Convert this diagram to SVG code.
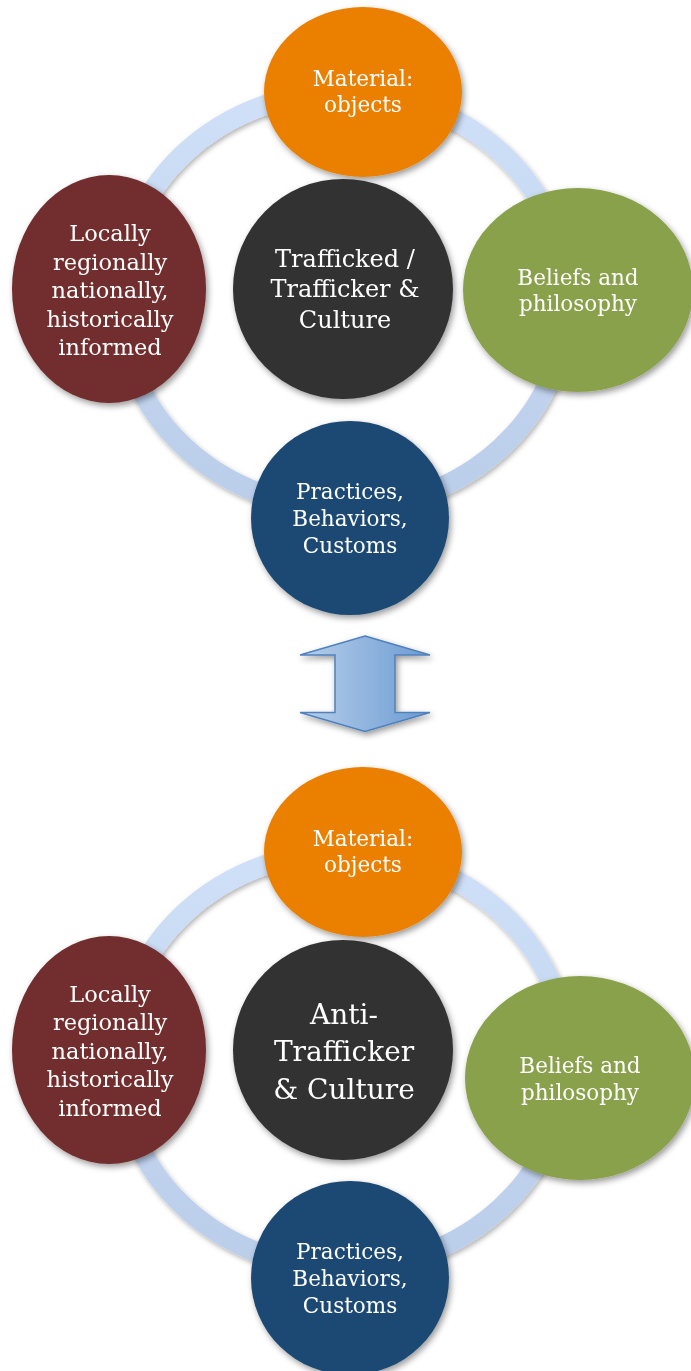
<svg xmlns="http://www.w3.org/2000/svg" width="691" height="1371" viewBox="0 0 691 1371">
<defs>
<filter id="sh" x="-20%" y="-20%" width="140%" height="140%">
<feDropShadow dx="2" dy="3" stdDeviation="3" flood-color="#000" flood-opacity="0.4"/>
</filter>
<filter id="rsh" x="-10%" y="-10%" width="120%" height="120%">
<feDropShadow dx="1.5" dy="2.5" stdDeviation="2.5" flood-color="#000" flood-opacity="0.3"/>
</filter>
<linearGradient id="ringg" x1="0" y1="0" x2="0" y2="1">
<stop offset="0" stop-color="#cfe0f8"/>
<stop offset="1" stop-color="#bacde9"/>
</linearGradient>
<linearGradient id="arrg" x1="0" y1="0" x2="1" y2="0">
<stop offset="0" stop-color="#b7cfea"/>
<stop offset="1" stop-color="#6b9bd3"/>
</linearGradient>
<style>
.t{font-family:"DejaVu Serif","Liberation Serif",serif;fill:#ffffff;text-anchor:middle;font-size:21.5px}
.m{font-size:22.5px}
.c{font-size:24px}
.c2{font-size:28px}
.ring{fill:none;stroke:url(#ringg);stroke-width:20}
</style>
</defs>

<g id="connectors" filter="url(#rsh)">
<ellipse class="ring" cx="343" cy="300" rx="224" ry="208"/>
<ellipse class="ring" cx="343" cy="1060" rx="224" ry="208"/>
</g>

<g id="top-material" filter="url(#sh)">
<ellipse cx="363" cy="92" rx="99" ry="85" fill="#eb8006"/>
<text class="t" x="363" y="86">Material:</text>
<text class="t" x="363" y="112">objects</text>
</g>
<g id="top-beliefs" filter="url(#sh)">
<ellipse cx="578" cy="290" rx="115" ry="102" fill="#8aa14b"/>
<text class="t" x="578" y="285">Beliefs and</text>
<text class="t" x="578" y="311">philosophy</text>
</g>
<g id="top-practices" filter="url(#sh)">
<ellipse cx="350" cy="518" rx="99" ry="97" fill="#1e4a73"/>
<text class="t" x="350" y="499">Practices,</text>
<text class="t" x="350" y="526">Behaviors,</text>
<text class="t" x="350" y="553">Customs</text>
</g>
<g id="top-locally" filter="url(#sh)">
<ellipse cx="109" cy="289" rx="97" ry="114" fill="#722f2d"/>
<text class="t m" x="110" y="241">Locally</text>
<text class="t m" x="110" y="269.5">regionally</text>
<text class="t m" x="110" y="298">nationally,</text>
<text class="t m" x="110" y="326.5">historically</text>
<text class="t m" x="110" y="355">informed</text>
</g>
<g id="top-center" filter="url(#sh)">
<ellipse cx="343" cy="289" rx="110" ry="110" fill="#323232"/>
<text class="t c" x="345" y="267">Trafficked /</text>
<text class="t c" x="345" y="297">Trafficker &amp;</text>
<text class="t c" x="345" y="328">Culture</text>
</g>

<g id="double-arrow" filter="url(#sh)">
<polygon points="365,636 430,655 395,655 395,712.5 430,712.5 365,731.5 300,712.5 335,712.5 335,655 300,655" fill="url(#arrg)" stroke="#4f81bd" stroke-width="1.5" stroke-linejoin="miter"/>
</g>

<g id="bottom-material" filter="url(#sh)">
<ellipse cx="363" cy="852" rx="99" ry="85" fill="#eb8006"/>
<text class="t" x="363" y="846">Material:</text>
<text class="t" x="363" y="872">objects</text>
</g>
<g id="bottom-beliefs" filter="url(#sh)">
<ellipse cx="580" cy="1078" rx="115" ry="102" fill="#8aa14b"/>
<text class="t" x="580" y="1073">Beliefs and</text>
<text class="t" x="580" y="1100">philosophy</text>
</g>
<g id="bottom-practices" filter="url(#sh)">
<ellipse cx="350" cy="1278" rx="99" ry="97" fill="#1e4a73"/>
<text class="t" x="350" y="1259">Practices,</text>
<text class="t" x="350" y="1286">Behaviors,</text>
<text class="t" x="350" y="1313">Customs</text>
</g>
<g id="bottom-locally" filter="url(#sh)">
<ellipse cx="109" cy="1050" rx="97" ry="114" fill="#722f2d"/>
<text class="t m" x="110" y="1001.5">Locally</text>
<text class="t m" x="110" y="1030">regionally</text>
<text class="t m" x="110" y="1058.5">nationally,</text>
<text class="t m" x="110" y="1087">historically</text>
<text class="t m" x="110" y="1115.5">informed</text>
</g>
<g id="bottom-center" filter="url(#sh)">
<ellipse cx="343" cy="1050" rx="110" ry="110" fill="#323232"/>
<text class="t c2" x="344" y="1024">Anti-</text>
<text class="t c2" x="344" y="1061">Trafficker</text>
<text class="t c2" x="344" y="1099">&amp; Culture</text>
</g>
</svg>
